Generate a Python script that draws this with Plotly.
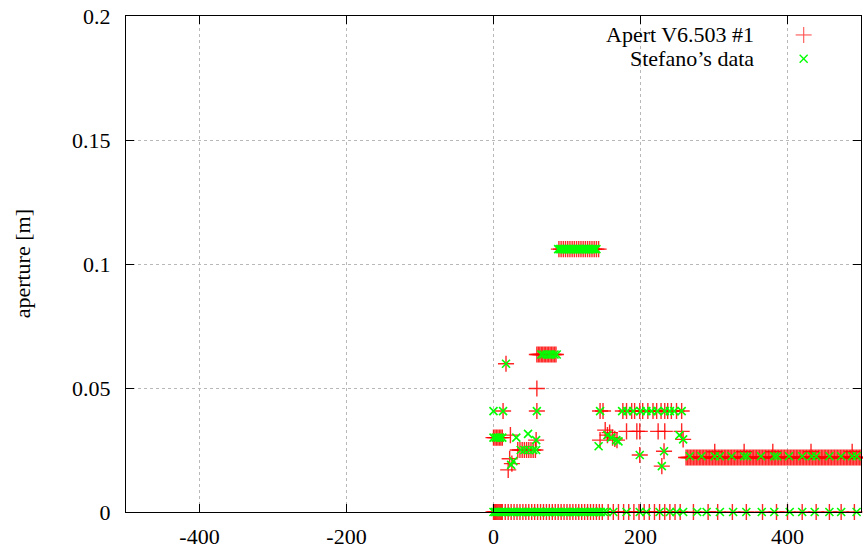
import plotly.graph_objects as go

# ---------------- data (s position [m], aperture [m]) ----------------
# Apert V6.503 #1  (red +)
apert_zero_s = [0, 1.5, 3, 4.5, 6, 7.5, 9, 10.5, 12, 16, 20, 24, 28, 32, 36, 40, 44, 48, 52, 56,
                60, 64, 68, 72, 76, 80, 84, 88, 92, 96, 100, 104, 108, 112, 116, 120, 124, 128,
                132, 136, 140, 144, 148, 156, 163, 170, 177, 184, 191, 198, 205, 212, 219, 226,
                233, 240, 247, 254, 272, 292, 305, 325, 344, 366, 385, 400, 420, 439, 457, 473, 491]
apert_band_s = [262, 264, 266, 268, 270, 272, 274, 276, 278, 280, 282, 284, 286, 288, 290, 292, 294,
                296, 298, 300, 302, 304, 306, 308, 310, 312, 314, 316, 318, 320, 322, 324, 326, 328,
                330, 332, 334, 336, 338, 340, 342, 344, 346, 348, 350, 352, 354, 356, 358, 360, 362,
                364, 366, 368, 370, 372, 374, 376, 378, 380, 382, 384, 386, 388, 390, 392, 394, 396,
                398, 400, 402, 404, 406, 408, 410, 412, 414, 416, 418, 420, 422, 424, 426, 428, 430,
                432, 434, 436, 438, 440, 442, 444, 446, 448, 450, 452, 454, 456, 458, 460, 462, 464,
                466, 468, 470, 472, 474, 476, 478, 480, 482, 484, 486, 488, 490, 492, 494, 496, 498, 500]
apert_band_hi_s = [301, 341, 380, 432, 488]
apert_top_s = [89, 92, 95, 98, 101, 104, 107, 110, 113, 116, 119, 122, 125, 128, 131, 134, 137, 140, 143]
apert_064_s = [59, 61, 63, 65, 67, 69, 71, 73, 75, 77, 79, 81, 83, 85]
apert_041_s = [13, 59, 145, 149, 176, 181, 188, 192, 199, 203, 210, 217, 222, 228, 233, 237, 242, 249, 256]
apert_030_s = [0, 2, 4, 6, 8, 10, 12]
apert_025_s = [33, 36, 39, 42, 45, 48, 51, 54, 57]
apert_0325_s = [181, 195, 199, 224, 233, 256]
apert_misc_s = [17, 59, 23, 58, 22, 25, 20, 145, 152, 155, 158, 162, 165, 168, 199, 229, 232, 258]
apert_misc_a = [0.0598, 0.0498, 0.031, 0.029, 0.0215, 0.0195, 0.017, 0.029, 0.033, 0.031, 0.032,
                0.030, 0.0295, 0.029, 0.023, 0.0185, 0.0245, 0.0293]

# Stefano's data (green x)
stef_zero_s = [0, 2, 4, 6, 8, 10, 12, 14, 17, 20, 23, 26, 29, 32, 35, 38, 41, 44, 47, 50, 53, 56,
               59, 62, 65, 68, 71, 74, 77, 80, 83, 86, 89, 92, 95, 98, 101, 104, 107, 110, 113, 116,
               119, 122, 125, 128, 131, 134, 137, 140, 143, 146, 150, 154, 163, 181, 199, 208, 226,
               240, 249, 258, 277, 290, 308, 326, 344, 365, 382, 403, 420, 437, 457, 473, 494]
stef_band_s = [267, 283, 301, 308, 324, 341, 345, 364, 382, 386, 402, 420, 433, 439, 457, 473, 488, 494]
stef_top_s = [88, 90, 92, 94, 96, 98, 100, 102, 104, 106, 108, 110, 112, 114, 116, 118, 120, 122,
              124, 126, 128, 130, 132, 134, 136, 138, 140]
stef_064_s = [65, 68, 72, 76, 79, 83, 86]
stef_041_s = [0, 13, 59, 145, 175, 182, 190, 200, 208, 215, 223, 233, 240, 246, 256]
stef_030_s = [0, 3, 6, 9, 12]
stef_025_s = [37, 42, 48, 54, 58]
stef_misc_s = [17, 31, 47, 58, 24, 27, 143, 155, 160, 167, 170, 199, 229, 232, 258, 253]
stef_misc_a = [0.0598, 0.030, 0.0315, 0.029, 0.019, 0.0205, 0.0265, 0.031, 0.030, 0.029, 0.0285,
               0.023, 0.0185, 0.0245, 0.0293, 0.031]

# aperture levels of the rows
LEVEL_ZERO, LEVEL_BAND, LEVEL_BAND_HI = 0.0, 0.022, 0.0243
LEVEL_TOP, LEVEL_064, LEVEL_041, LEVEL_030, LEVEL_025, LEVEL_0325 = 0.106, 0.0635, 0.0407, 0.030, 0.025, 0.0325
STEF_BAND = 0.0225

x_ticks = [-400, -200, 0, 200, 400]
x_ticktext = ["-400", "-200", "0", "200", "400"]
y_ticks = [0, 0.05, 0.1, 0.15, 0.2]
y_ticktext = ["0", "0.05", "0.1", "0.15", "0.2"]


def rows(pairs):
    xs, ys = [], []
    for level, s_list in pairs:
        xs += list(s_list)
        ys += [level] * len(s_list)
    return xs, ys


ax, ay = rows([(LEVEL_ZERO, apert_zero_s), (LEVEL_BAND, apert_band_s), (LEVEL_BAND_HI, apert_band_hi_s),
               (LEVEL_TOP, apert_top_s), (LEVEL_064, apert_064_s), (LEVEL_041, apert_041_s),
               (LEVEL_030, apert_030_s), (LEVEL_025, apert_025_s), (LEVEL_0325, apert_0325_s)])
ax += apert_misc_s
ay += apert_misc_a

sx, sy = rows([(LEVEL_ZERO, stef_zero_s), (STEF_BAND, stef_band_s), (LEVEL_TOP, stef_top_s),
               (LEVEL_064, stef_064_s), (LEVEL_041, stef_041_s), (LEVEL_030, stef_030_s),
               (LEVEL_025, stef_025_s)])
sx += stef_misc_s
sy += stef_misc_a

RED = "rgba(255,0,0,0.85)"
GREEN = "#00ff00"
FONT = "Liberation Serif"
FSIZE = 22

fig = go.Figure()
fig.add_trace(go.Scatter(x=ax, y=ay, mode="markers", name="Apert V6.503 #1", cliponaxis=False,
                         marker=dict(symbol="cross-thin", size=11.5, color=RED,
                                     line=dict(color=RED, width=1.4))))
fig.add_trace(go.Scatter(x=sx, y=sy, mode="markers", name="Stefano's data", cliponaxis=False,
                         marker=dict(symbol="x-thin", size=8, color=GREEN,
                                     line=dict(color=GREEN, width=1.6))))

# legend (gnuplot style: text right-aligned, key symbol on the right)
LEG_TX, LEG_SX = 0.8577, 0.922
LEG_Y = [0.9618, 0.9137]
for txt, yy in zip(["Apert V6.503 #1", "Stefano\u2019s data"], LEG_Y):
    fig.add_annotation(x=LEG_TX, y=yy, xref="paper", yref="paper", text=txt, showarrow=False,
                       xanchor="right", yanchor="middle", font=dict(family=FONT, size=FSIZE, color="black"))
# red + key
fig.add_shape(type="line", xref="paper", yref="paper", xsizemode="pixel", ysizemode="pixel",
              xanchor=LEG_SX, yanchor=LEG_Y[0], x0=-8, x1=8, y0=0, y1=0,
              line=dict(color="rgba(255,80,80,0.9)", width=1.2))
fig.add_shape(type="line", xref="paper", yref="paper", xsizemode="pixel", ysizemode="pixel",
              xanchor=LEG_SX, yanchor=LEG_Y[0], x0=0, x1=0, y0=-8, y1=8,
              line=dict(color="rgba(255,80,80,0.9)", width=1.2))
# green x key
fig.add_shape(type="line", xref="paper", yref="paper", xsizemode="pixel", ysizemode="pixel",
              xanchor=LEG_SX, yanchor=LEG_Y[1], x0=-4, x1=4, y0=-4, y1=4,
              line=dict(color=GREEN, width=1.3))
fig.add_shape(type="line", xref="paper", yref="paper", xsizemode="pixel", ysizemode="pixel",
              xanchor=LEG_SX, yanchor=LEG_Y[1], x0=-4, x1=4, y0=4, y1=-4,
              line=dict(color=GREEN, width=1.3))

# y axis title
fig.add_annotation(x=-0.141, y=0.5, xref="paper", yref="paper", text="aperture [m]", showarrow=False,
                   textangle=-90, xanchor="center", yanchor="middle",
                   font=dict(family=FONT, size=FSIZE, color="black"))

axis_common = dict(showline=True, linecolor="black", linewidth=1, mirror="allticks",
                   ticks="inside", ticklen=8, tickwidth=1, tickcolor="black",
                   showgrid=True, gridcolor="#b8b8b8", gridwidth=1, griddash="dot",
                   zeroline=False, tickfont=dict(family=FONT, size=FSIZE, color="black"))

fig.update_xaxes(range=[-500, 500], tickvals=x_ticks, ticktext=x_ticktext, ticklabelstandoff=5, **axis_common)
fig.update_yaxes(range=[0, 0.2], tickvals=y_ticks, ticktext=y_ticktext, ticklabelstandoff=10, **axis_common)

fig.update_layout(width=863, height=550, showlegend=False,
                  margin=dict(l=126, r=1, t=16, b=36),
                  plot_bgcolor="white", paper_bgcolor="white",
                  font=dict(family=FONT, size=FSIZE, color="black"))

fig.write_html("out.html")
